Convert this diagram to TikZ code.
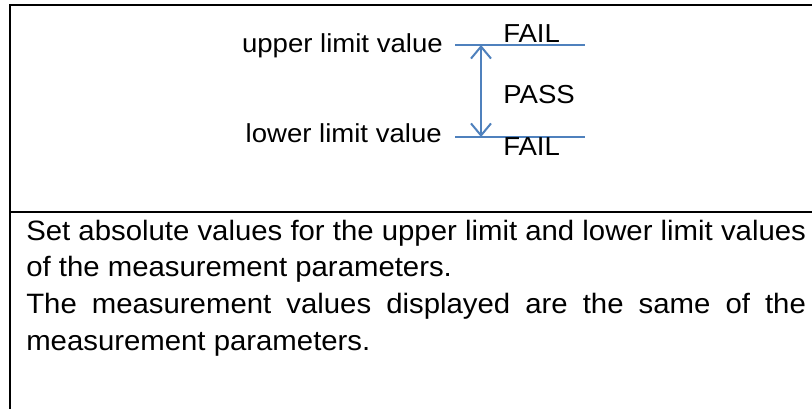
\documentclass[tikz,border=0pt]{standalone}
\usepackage{fontspec}
\usepackage{graphicx}
\setmainfont{Liberation Sans}
\usetikzlibrary{arrows.meta}
\definecolor{limblue}{RGB}{79,129,189}
\newcommand\hstretch[1]{\scalebox{1.06}[1]{#1}}
\begin{document}
\begin{tikzpicture}[x=0.75pt,y=-0.75pt,
  frame/.style={draw=black,line width=1.3pt},
  limitline/.style={draw=limblue,line width=1.5pt},
  rangearrow/.style={draw=limblue,line width=1.5pt,{Straight Barb[length=9pt,width=15pt,line width=1.5pt]}-{Straight Barb[length=9pt,width=15pt,line width=1.5pt]}},
  lbl/.style={inner sep=0pt,font=\fontsize{19.5}{23}\selectfont},
  body/.style={inner sep=0pt,font=\fontsize{21}{27.5}\selectfont}]
\useasboundingbox (0,0) rectangle (812,408);
\fill[white] (0,0) rectangle (812,408);
% frame
\coordinate (tl) at (10,5);
\coordinate (tr) at (813,5);
\coordinate (bl) at (10,409);
\coordinate (ml) at (10,212);
\coordinate (mr) at (813,212);
\draw[frame] (bl) -- (tl) -- (tr);
\draw[frame] (ml) -- (mr);
% limit lines
\coordinate (ul0) at (455,45);
\coordinate (ul1) at (585,45);
\coordinate (ll0) at (455,137);
\coordinate (ll1) at (585,137);
\draw[limitline] (ul0) -- (ul1);
\draw[limitline] (ll0) -- (ll1);
\coordinate (atop) at (481,45);
\coordinate (abot) at (481,137);
\draw[rangearrow] (atop) -- (abot);
% labels
\node[lbl,anchor=base east] (upper) at (443,52) {\hstretch{upper limit value}};
\node[lbl,anchor=base east] (lower) at (442,142) {\hstretch{lower limit value}};
\node[lbl,anchor=base west] (fail1) at (503,42) {\hstretch{FAIL}};
\node[lbl,anchor=base west] (pass) at (503,103) {\hstretch{PASS}};
\node[lbl,anchor=base west] (fail2) at (503,155) {\hstretch{FAIL}};
% description
\node[body,anchor=base west] (desc) at (26,240) {\scalebox{1.048}[1]{\parbox[t]{558pt}{\hyphenpenalty=10000\exhyphenpenalty=10000\tolerance=10000\parindent=0pt
Set absolute values for the upper limit and lower limit values\linebreak of the measurement parameters.\par
The measurement values displayed are the same of the\linebreak measurement parameters.}}};
\end{tikzpicture}
\end{document}
